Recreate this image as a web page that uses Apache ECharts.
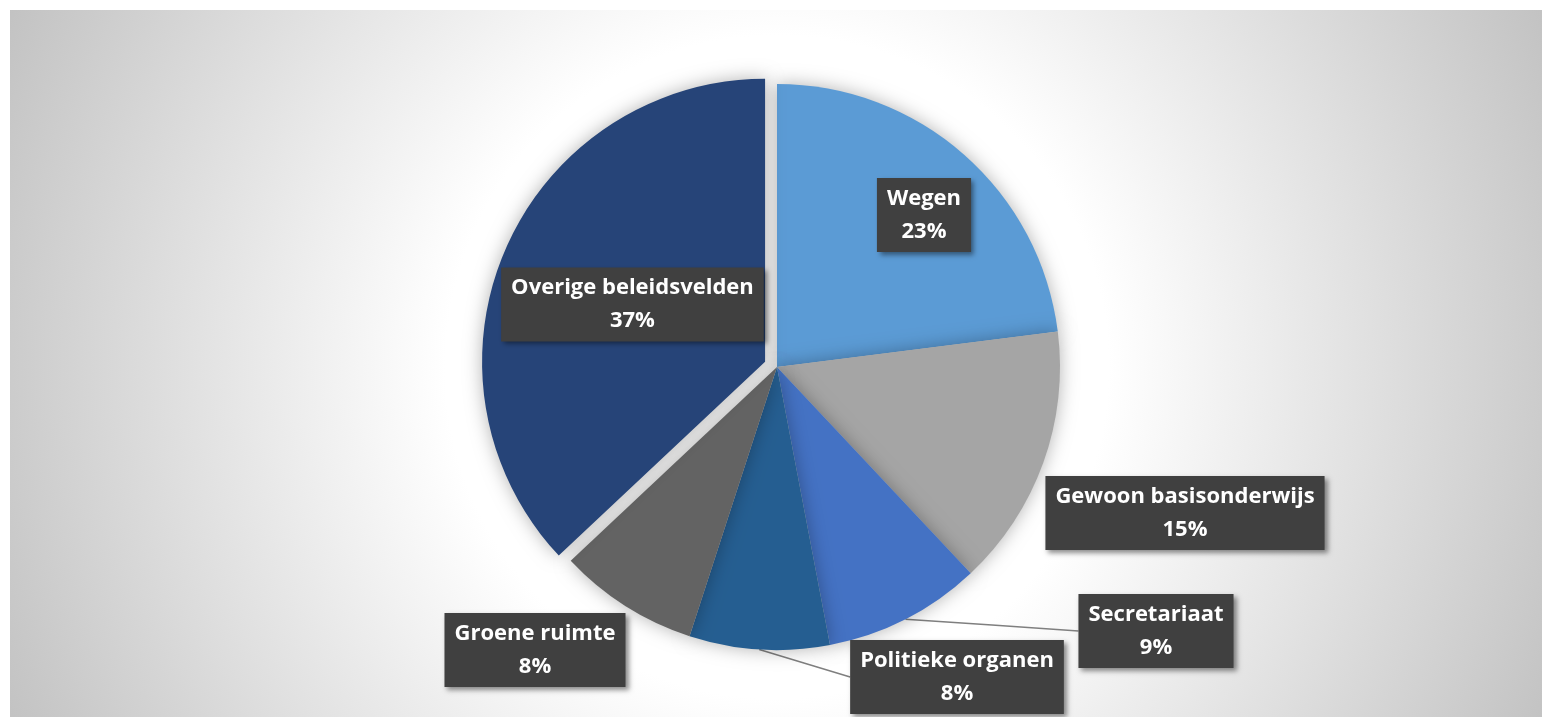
<!DOCTYPE html>
<html>
<head>
<meta charset="utf-8">
<script src="https://cdn.jsdelivr.net/npm/echarts@6/dist/echarts.min.js"></script>
<style>
  html, body { margin: 0; padding: 0; background: #ffffff; }
  #chart { width: 1542px; height: 717px; }
</style>
</head>
<body>
<div id="chart"></div>
<script>
// ---- data ----
var categories = ['Wegen', 'Gewoon basisonderwijs', 'Secretariaat', 'Politieke organen', 'Groene ruimte', 'Overige beleidsvelden'];
var shares = [23, 15, 9, 8, 8, 37];

// ---- styling (kept separate from data) ----
var sliceColors = ['#5B9BD5', '#A5A5A5', '#4472C4', '#255E91', '#636363', '#264478'];
var labelPlacement = ['inside', 'outside', 'outside', 'outside', 'outside', 'inside'];
var labelLeader = [false, false, true, true, false, false];
var explodedSlice = [false, false, false, false, false, true];
var labelCenters = [[924, 215], [1185, 513], [1156, 631], [957, 677], [535, 650], [632, 326]];

var chart = echarts.init(document.getElementById('chart'), null, { renderer: 'canvas' });

var seriesData = categories.map(function (name, i) {
  return {
    name: name,
    value: shares[i],
    selected: explodedSlice[i],
    itemStyle: { color: sliceColors[i] },
    label: { position: labelPlacement[i] },
    labelLine: { show: labelLeader[i] }
  };
});

var option = {
  animation: false,
  backgroundColor: '#ffffff',
  graphic: [{
    type: 'rect',
    z: -10,
    silent: true,
    shape: { x: 10, y: 10, width: 1532, height: 707 },
    style: {
      fill: new echarts.graphic.RadialGradient(777, 367, 850, [
        { offset: 0, color: '#ffffff' },
        { offset: 0.39, color: '#ffffff' },
        { offset: 1, color: '#c2c2c2' }
      ], true)
    }
  }],
  series: [{
    type: 'pie',
    center: [777, 367],
    radius: [0, 283],
    startAngle: 90,
    clockwise: true,
    selectedMode: 'single',
    selectedOffset: 13,
    avoidLabelOverlap: false,
    emphasis: { disabled: true },
    itemStyle: {
      shadowBlur: 18,
      shadowColor: 'rgba(0,0,0,0.3)'
    },
    label: {
      show: true,
      formatter: function (p) { return p.name + '\n' + Math.round(p.percent) + '%'; },
      color: '#ffffff',
      fontFamily: "'Open Sans', sans-serif",
      fontWeight: 'bold',
      fontSize: 22,
      lineHeight: 33,
      align: 'center',
      backgroundColor: '#404040',
      padding: [4, 10],
      shadowBlur: 5,
      shadowOffsetX: 3,
      shadowOffsetY: 3,
      shadowColor: 'rgba(0,0,0,0.45)'
    },
    labelLine: {
      lineStyle: { color: '#7f7f7f', width: 1.5 }
    },
    labelLayout: function (p) {
      var c = labelCenters[p.dataIndex];
      var out = { x: c[0], y: c[1], align: 'center', verticalAlign: 'middle' };
      if (labelLeader[p.dataIndex] && p.labelLinePoints && p.labelLinePoints.length) {
        var start = p.labelLinePoints[0];
        var leftX = c[0] - p.labelRect.width / 2;
        out.labelLinePoints = [
          [start[0], start[1]],
          [(start[0] + leftX) / 2, (start[1] + c[1]) / 2],
          [leftX, c[1]]
        ];
      }
      return out;
    },
    data: seriesData
  }]
};

chart.setOption(option);
</script>
</body>
</html>
